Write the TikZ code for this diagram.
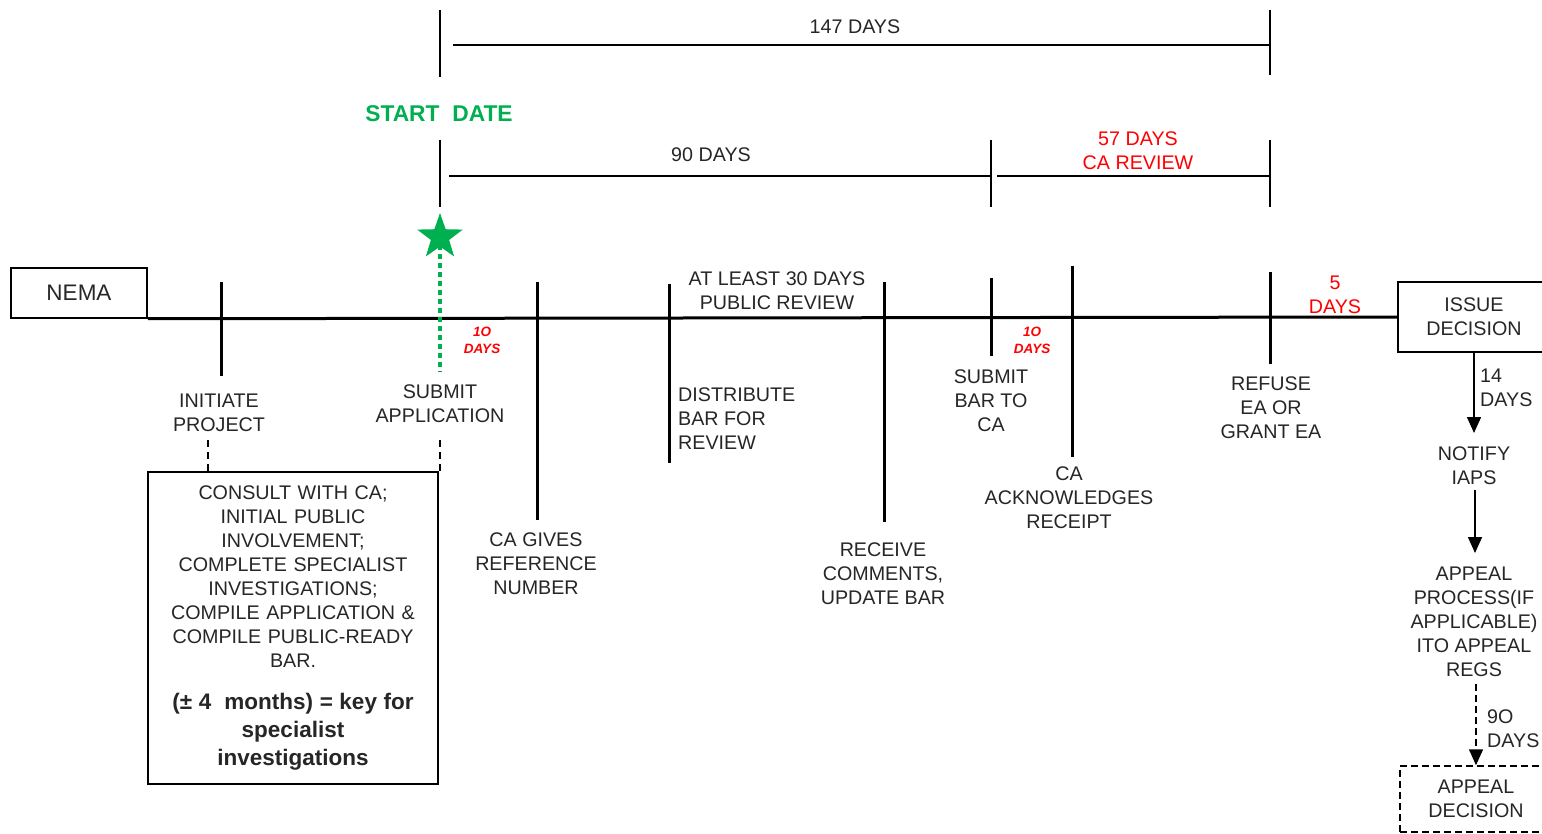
\documentclass[tikz,border=0pt]{standalone}
\usepackage{fontspec}
\setmainfont{Liberation Sans}
\usetikzlibrary{arrows.meta,shapes.geometric}
\definecolor{txt}{HTML}{262626}
\definecolor{grn}{HTML}{00B050}
\definecolor{rd}{HTML}{FF0000}
\begin{document}
\begin{tikzpicture}[x=1pt,y=-1pt,
  lbl/.style={font=\fontsize{19.7}{24}\selectfont, text=txt, align=center, inner sep=0pt},
  lbll/.style={lbl, align=left},
  redlbl/.style={lbl, text=rd},
  smallred/.style={font=\fontsize{13.5}{17}\selectfont\bfseries\itshape, text=rd, align=center, inner sep=0pt},
  boxnode/.style={draw=black, line width=1.5pt, font=\fontsize{19.7}{24}\selectfont, text=txt, align=center, inner sep=0pt},
  tickline/.style={line width=3pt, black},
  dimline/.style={line width=1.8pt, black},
  tline/.style={line width=3pt, black},
  arr/.style={line width=1.5pt, black, -{Triangle[width=14pt,length=16pt]}},
  darr/.style={line width=1.5pt, black, dash pattern=on 7pt off 4pt, -{Triangle[width=14pt,length=16pt]}},
  dashconn/.style={line width=1.5pt, black, dash pattern=on 7pt off 5pt},
  greendot/.style={line width=4.5pt, grn, dash pattern=on 5pt off 4pt}
]
\useasboundingbox (0,0) rectangle (1542,834);

% boxes
\node[boxnode, font=\fontsize{22.5}{26}\selectfont, minimum width=136pt, minimum height=50pt] (nema) at (79,293) {NEMA};
\node[boxnode, minimum width=152pt, minimum height=70pt] (issue) at (1474,317) {ISSUE\\DECISION};
\node[boxnode, text width=290pt, minimum height=312pt] (prep) at (293,628)
 {\centering CONSULT WITH CA;\\INITIAL PUBLIC\\INVOLVEMENT;\\COMPLETE SPECIALIST\\INVESTIGATIONS;\\COMPILE APPLICATION \&\\COMPILE PUBLIC-READY\\BAR.\par
  \vspace{14pt}\fontsize{22.5}{28}\selectfont\bfseries (± 4\ \ months) = key for\\specialist\\investigations\par};
\node[boxnode, dash pattern=on 7pt off 4pt, minimum width=152pt, minimum height=66pt] (adec) at (1476,799) {APPEAL\\DECISION};

% main timeline
\draw[tline] (nema.south east) -- (issue.west);

% ticks
\draw[tickline] (221,282) -- (221,376);
\draw[tickline] (537,282) -- (537,520);
\draw[tickline] (669,284) -- (669,463);
\draw[tickline] (884,282) -- (884,522);
\draw[tickline] (991,278) -- (991,356);
\draw[tickline] (1072,266) -- (1072,457);
\draw[tickline] (1270,272) -- (1270,364);

% dimension lines
\draw[dimline] (440,10) -- (440,77);
\draw[dimline] (1270,10) -- (1270,75);
\draw[dimline] (453,45) -- (1270,45);
\draw[dimline] (440,140) -- (440,207);
\draw[dimline] (991,140) -- (991,207);
\draw[dimline] (1270,140) -- (1270,207);
\draw[dimline] (449,176) -- (991,176);
\draw[dimline] (997,176) -- (1270,176);

\node[lbl] (d147) at (855,27) {147 DAYS};
\node[lbl, font=\fontsize{22.8}{26}\selectfont\bfseries, text=grn] (start) at (439,114) {START\ \ DATE};
\node[lbl] (d90) at (711,155) {90 DAYS};
\node[redlbl] (d57) at (1138,151) {57 DAYS\\CA REVIEW};
\node[lbl] (d30) at (777,291) {AT LEAST 30 DAYS\\PUBLIC REVIEW};
\node[smallred] (d10a) at (482,340) {1O\\DAYS};
\node[smallred] (d10b) at (1032,340) {1O\\DAYS};
\node[redlbl] (d5) at (1335,295) {5\\DAYS};

% star + green dotted
\node[star, star points=5, star point ratio=2.5, fill=grn, draw=none, minimum size=48pt, inner sep=0pt] (star) at (440,237) {};
\draw[greendot] (star.south) ++(0,-2) -- (440,372);

% labels
\node[lbl] (init) at (219,413) {INITIATE\\PROJECT};
\node[lbl] (submit) at (440,404) {SUBMIT\\APPLICATION};
\node[lbl] (ref) at (536,564) {CA GIVES\\REFERENCE\\NUMBER};
\node[lbll, anchor=west] (distr) at (678,419) {DISTRIBUTE\\BAR FOR\\REVIEW};
\node[lbl] (recv) at (883,574) {RECEIVE\\COMMENTS,\\UPDATE BAR};
\node[lbl] (sbar) at (991,401) {SUBMIT\\BAR TO\\CA};
\node[lbl] (ack) at (1069,498) {CA\\ACKNOWLEDGES\\RECEIPT};
\node[lbl] (refuse) at (1271,408) {REFUSE\\EA OR\\GRANT EA};

% dashed connectors to box
\coordinate (c1) at (208,440);
\coordinate (c2) at (440,440);
\draw[dashconn] (c1) -- (c1 |- prep.north);
\draw[dashconn] (c2) -- (c2 |- prep.north);

% right column
\node[lbl] (notify) at (1474,466) {NOTIFY\\IAPS};
\node[lbl] (appeal) at (1474,622) {APPEAL\\PROCESS(IF\\APPLICABLE)\\ITO APPEAL\\REGS};
\node[lbll, anchor=west] (d14) at (1480,388) {14\\DAYS};
\node[lbll, anchor=west] (d90b) at (1487,729) {9O\\DAYS};

\coordinate (n1) at (1475,490);
\coordinate (n2) at (1475,553);
\coordinate (a1) at (1476,684);
\draw[arr] (issue.south) -- (1474,433);
\draw[arr] (n1) -- (n2);
\draw[darr] (a1) -- (adec.north);
\end{tikzpicture}
\end{document}
